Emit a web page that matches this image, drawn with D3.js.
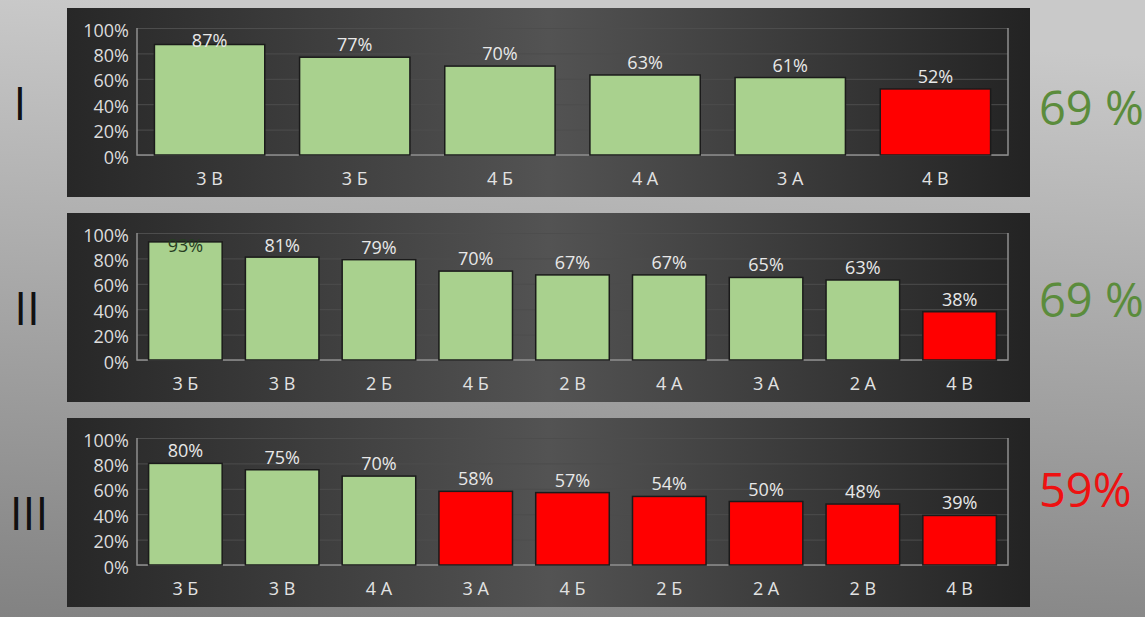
<!DOCTYPE html>
<html>
<head>
<meta charset="utf-8">
<script src="https://cdn.jsdelivr.net/npm/d3@7"></script>
<style>
  html, body { margin: 0; padding: 0; overflow: hidden; }
  svg { display: block; font-family: "Open Sans", "Noto Sans", sans-serif; }
</style>
</head>
<body>
<svg width="1145" height="617"></svg>
<script>
// chart data
const cats1 = ["3 В", "3 Б", "4 Б", "4 А", "3 А", "4 В"];
const vals1 = [87, 77, 70, 63, 61, 52];

const cats2 = ["3 Б", "3 В", "2 Б", "4 Б", "2 В", "4 А", "3 А", "2 А", "4 В"];
const vals2 = [93, 81, 79, 70, 67, 67, 65, 63, 38];

const cats3 = ["3 Б", "3 В", "4 А", "3 А", "4 Б", "2 Б", "2 А", "2 В", "4 В"];
const vals3 = [80, 75, 70, 58, 57, 54, 50, 48, 39];

const romans = ["I", "II", "III"];
const totals = ["69 %", "69 %", "59%"];
const totalColors = ["#5b8c3c", "#5b8c3c", "#ee1111"];
const yTicks = [0, 20, 40, 60, 80, 100];
const threshold = 60; // below this a bar is red

const panels = [
  { cats: cats1, vals: vals1 },
  { cats: cats2, vals: vals2 },
  { cats: cats3, vals: vals3 }
];

let svg = d3.select("svg");
let defs = svg.append("defs");

// page background
let bg = defs.append("linearGradient").attr("id", "pageBg")
    .attr("x1", 0.1).attr("y1", 0).attr("x2", 0).attr("y2", 1);
bg.append("stop").attr("offset", "0%").attr("stop-color", "#c9c9c9");
bg.append("stop").attr("offset", "100%").attr("stop-color", "#828282");

// dark panel background, lighter in the middle
let pg = defs.append("linearGradient").attr("id", "panelBg")
    .attr("x1", 0).attr("y1", 0).attr("x2", 1).attr("y2", 0);
pg.append("stop").attr("offset", "0%").attr("stop-color", "#272727");
pg.append("stop").attr("offset", "50%").attr("stop-color", "#535353");
pg.append("stop").attr("offset", "100%").attr("stop-color", "#232323");

svg.append("rect").attr("width", 1145).attr("height", 617).attr("fill", "url(#pageBg)");

let panelTops = [8, 213, 418];
let panelX = 67, panelW = 963, panelH = 189;
let plotLeft = 137, plotRight = 1008;
let romanX = [20, 27, 29];
let totalY = [117, 104, 89];

panels.forEach(function (p, i) {
  let g = svg.append("g").attr("transform", "translate(0," + panelTops[i] + ")");

  g.append("rect")
      .attr("x", panelX).attr("y", 0)
      .attr("width", panelW).attr("height", panelH)
      .attr("fill", "url(#panelBg)");

  let y = d3.scaleLinear().domain([0, 100]).range([147, 20]);
  let x = d3.scaleBand().domain(p.cats)
      .range([plotLeft, plotRight])
      .paddingInner(0.24).paddingOuter(0.12);

  // gridlines
  let grid = g.append("g")
      .attr("transform", "translate(" + plotLeft + ",0)")
      .call(d3.axisLeft(y).tickValues(yTicks).tickSize(-(plotRight - plotLeft)).tickFormat(""));
  grid.select(".domain").remove();
  grid.selectAll("line").attr("stroke", "#4d4d4d").attr("stroke-width", 1);

  // tick labels
  let yAxis = g.append("g")
      .attr("transform", "translate(" + plotLeft + ",0)")
      .call(d3.axisLeft(y).tickValues(yTicks).tickSize(0).tickPadding(8).tickFormat(d => d + "%"));
  yAxis.select(".domain").remove();
  yAxis.selectAll("text")
      .attr("dy", null).attr("y", 8)
      .attr("fill", "#dcdcdc").style("font-size", "18px")
      .style("font-family", "'Open Sans', sans-serif");

  // plot frame: left, bottom, right
  g.append("path")
      .attr("d", "M" + plotLeft + "," + y(100) + "V" + y(0) + "H" + plotRight + "V" + y(100))
      .attr("fill", "none").attr("stroke", "#8e8e8e").attr("stroke-width", 1.5);

  // bars
  g.selectAll(".bar").data(p.vals).enter()
      .append("rect").classed("bar", true)
      .attr("x", (d, j) => x(p.cats[j]))
      .attr("y", d => y(d))
      .attr("width", x.bandwidth())
      .attr("height", d => y(0) - y(d))
      .attr("fill", d => d < threshold ? "#ff0000" : "#a9d18e")
      .attr("stroke", "#1b1b1b").attr("stroke-width", 1.5);

  // value labels, pushed inside the plot when they would not fit above
  let labelY = d => Math.max(y(d) - 6, y(100) + 19);
  g.selectAll(".val").data(p.vals).enter()
      .append("text").classed("val", true)
      .attr("x", (d, j) => x(p.cats[j]) + x.bandwidth() / 2)
      .attr("y", labelY)
      .attr("text-anchor", "middle")
      .style("font-size", "18px")
      .attr("fill", d => labelY(d) - y(d) > 6 ? "#263d22" : "#e8e8e8")
      .text(d => d + "%");

  // category labels
  g.selectAll(".cat").data(p.cats).enter()
      .append("text").classed("cat", true)
      .attr("x", d => x(d) + x.bandwidth() / 2)
      .attr("y", y(0) + 30)
      .attr("text-anchor", "middle")
      .attr("fill", "#e2e2e2")
      .style("font-size", "18px")
      .text(d => d);

  // roman numeral on the left
  g.append("text")
      .attr("x", romanX[i])
      .attr("y", 112)
      .attr("text-anchor", "middle")
      .attr("fill", "#111")
      .style("font-size", "46px")
      .text(romans[i]);

  // overall percentage on the right
  g.append("text")
      .attr("x", 1039)
      .attr("y", totalY[i])
      .attr("fill", totalColors[i])
      .style("font-size", "47px")
      .text(totals[i]);
});
</script>
</body>
</html>
